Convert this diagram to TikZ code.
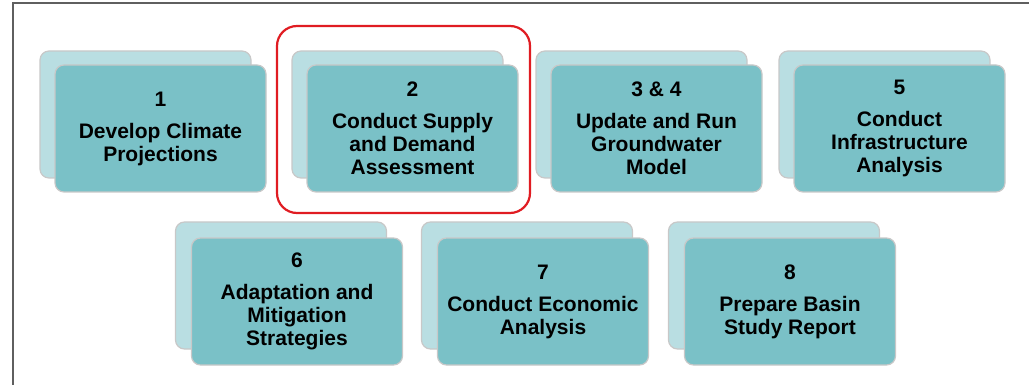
\documentclass[tikz,border=0pt]{standalone}
\usepackage{fontspec}
\setmainfont{Liberation Sans}
\definecolor{tealfront}{RGB}{122,193,199}
\definecolor{tealback}{RGB}{185,222,226}
\definecolor{cardedge}{RGB}{200,200,200}
\definecolor{framegray}{RGB}{95,95,95}
\definecolor{markred}{RGB}{224,28,34}
\tikzset{
  stepback/.style = {
    rectangle, draw=cardedge, line width=1.2pt, rounded corners=9pt,
    minimum width=211pt, minimum height=127pt, fill=tealback
  },
  stepfront/.style = {
    rectangle, draw=cardedge, line width=1.2pt, rounded corners=9pt,
    minimum width=211pt, minimum height=127pt, fill=tealfront,
    align=center, font=\bfseries\fontsize{21}{23}\selectfont
  },
  focus/.style = {
    rectangle, draw=markred, line width=2.2pt, rounded corners=20pt,
    minimum width=253pt, minimum height=187pt
  }
}

\begin{document}
\begin{tikzpicture}[x=1pt, y=-1pt]

    \useasboundingbox (0,0) rectangle (1029,385);

    % ------------------------------------------------------------- Outer frame
    \draw [framegray, line width=1.5pt] (13,385) -- (13,3) -- (1029,3);

    % ------------------------------------------------------- Back cards (top)
    \node [stepback] (b1)  at (145.5, 114.5) {};
    \node [stepback] (b2)  at (397.5, 114.5) {};
    \node [stepback] (b34) at (641.5, 114.5) {};
    \node [stepback] (b5)  at (884.5, 114.5) {};

    % ------------------------------------------------------ Front cards (top)
    \node [stepfront] (s1)  at (160.5, 128.5) {1\\[9pt]Develop Climate\\Projections};
    \node [stepfront] (s2)  at (412.5, 128.5) {2\\[9pt]Conduct Supply\\and Demand\\Assessment};
    \node [stepfront] (s34) at (656.5, 128.5) {3 \& 4\\[9pt]Update and Run\\Groundwater\\Model};
    \node [stepfront] (s5)  at (899.5, 128.5) {5\\[9pt]Conduct\\Infrastructure\\Analysis};

    % ---------------------------------------------------- Back cards (bottom)
    \node [stepback] (b6) at (281, 285.5) {};
    \node [stepback] (b7) at (527, 285.5) {};
    \node [stepback] (b8) at (774, 285.5) {};

    % --------------------------------------------------- Front cards (bottom)
    \node [stepfront] (s6) at (297, 301.5) {6\\[9pt]Adaptation and\\Mitigation\\Strategies};
    \node [stepfront] (s7) at (543, 301.5) {7\\[9pt]Conduct Economic\\Analysis};
    \node [stepfront] (s8) at (790, 301.5) {8\\[9pt]Prepare Basin\\Study Report};

    % ------------------------------------------------------ Highlighted step
    \node [focus] (mark2) at (403.5, 119.5) {};

\end{tikzpicture}
\end{document}
